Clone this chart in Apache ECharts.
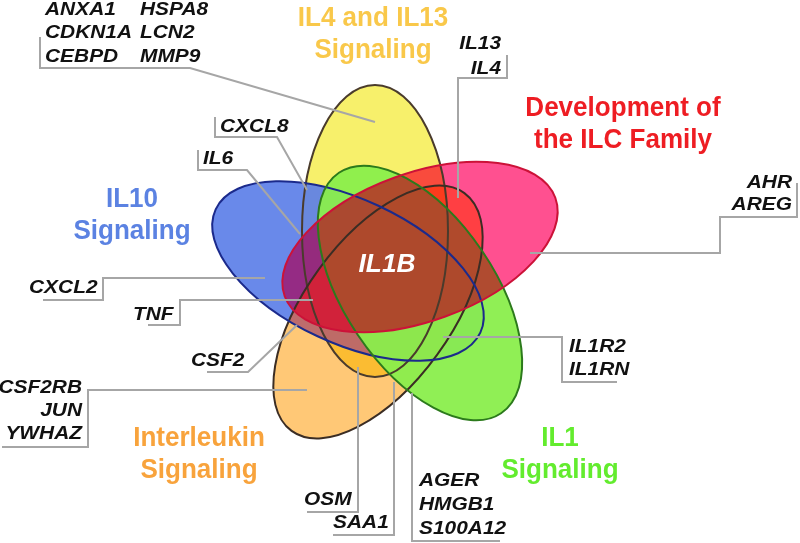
<!DOCTYPE html>
<html>
<head>
<meta charset="utf-8">
<script src="https://cdn.jsdelivr.net/npm/echarts@6/dist/echarts.min.js"></script>
<style>
  html, body { margin: 0; background: #fff; }
  #chart { width: 800px; height: 543px; }
</style>
</head>
<body>
<div id="chart"></div>
<script>
const setNames = [
  'IL4 and IL13\nSignaling',
  'Interleukin\nSignaling',
  'IL10\nSignaling',
  'IL1\nSignaling',
  'Development of\nthe ILC Family'
]
const coreGene = 'IL1B'
// genes shared by each labelled region
const geneGroups = [
  ['ANXA1', 'CDKN1A', 'CEBPD', 'HSPA8', 'LCN2', 'MMP9'],
  ['CXCL8'],
  ['IL6'],
  ['IL13', 'IL4'],
  ['AHR', 'AREG'],
  ['CXCL2'],
  ['TNF'],
  ['CSF2'],
  ['CSF2RB', 'JUN', 'YWHAZ'],
  ['OSM'],
  ['SAA1'],
  ['AGER', 'HMGB1', 'S100A12'],
  ['IL1R2', 'IL1RN']
]

// layout, in the 800 x 543 frame
const ellipseCenters = [[375, 231], [378, 312], [348, 271], [420, 293], [420, 247]]
const ellipseAxes = [[146, 73], [147, 73], [146, 72], [145, 75], [144, 74]]
const ellipseAngles = [90, 54, -25, -56, 20]
// fills are tuned for their blend mode so the single regions come out
// yellow / orange / blue / green / pink on white
const setFills = ['#f7f06b', '#c8643b', '#5c7fe8', '#8aee4c', '#a52848']
const setStrokes = ['#4a3b2c', '#3b2d24', '#1b2a8c', '#2c7a1c', '#cc1238']
const setOpacity = [1, 1, 0.92, 0.95, 1]
const setBlend = [null, 'hard-light', null, null, 'hard-light']
const drawOrder = [0, 2, 1, 3, 4]
const titleAnchors = [[373, 34], [199, 454], [132, 215], [560, 454], [623, 124]]
const titleColors = ['#f9c84a', '#f8a33c', '#5b82e2', '#63ec2e', '#ee1d23']

const geneAnchors = [[45, 33], [220, 127], [203, 159], [501, 56], [792, 194], [29, 288],
  [133, 315], [191, 361], [82, 411], [304, 500], [333, 523], [419, 505], [569, 358]]
const geneAlign = ['left', 'left', 'left', 'right', 'right', 'left',
  'left', 'left', 'right', 'left', 'left', 'left', 'left']
const geneLineHeight = [23.5, 23, 23, 25, 22, 23, 23, 23, 23, 23, 23, 24, 23]
const leaderPaths = [
  [[40, 37], [40, 68], [190, 68], [375, 122]],
  [[215, 117], [215, 137], [277, 137], [307, 190]],
  [[198, 150], [198, 170], [247, 170], [300, 234]],
  [[507, 55], [507, 78], [458, 78], [458, 198]],
  [[797, 183], [797, 217], [720, 217], [720, 253], [530, 253]],
  [[43, 300], [103, 300], [103, 278], [265, 278]],
  [[148, 325], [180, 325], [180, 300], [313, 300]],
  [[207, 372], [248, 372], [297, 325]],
  [[2, 447], [88, 447], [88, 390], [307, 390]],
  [[307, 512], [358, 512], [358, 367]],
  [[333, 535], [394, 535], [394, 382]],
  [[500, 541], [412, 541], [412, 393]],
  [[617, 382], [562, 382], [562, 337], [443, 337]]
]
const coreAnchor = [387, 265]

const geneFont = 'italic bold 19px "Liberation Sans", Arial, sans-serif'
const titleFont = 'bold 28px "Liberation Sans", Arial, sans-serif'

const ellipseData = setNames.map((n, i) => [
  ellipseCenters[i][0], ellipseCenters[i][1], ellipseAxes[i][0], ellipseAxes[i][1], ellipseAngles[i], i
])

function ellipseItem(params, api, outline) {
  const i = api.value(5)
  const c = api.coord([api.value(0), api.value(1)])
  const s = api.size([api.value(2), api.value(3)])
  return {
    type: 'ellipse',
    x: c[0],
    y: c[1],
    rotation: api.value(4) * Math.PI / 180,
    shape: { cx: 0, cy: 0, rx: s[0], ry: s[1] },
    style: outline
      ? { fill: 'none', stroke: setStrokes[i], lineWidth: 2 }
      : { fill: setFills[i], opacity: setOpacity[i] }
  }
}

// gene labels: the six-gene group is set in two columns of three
const geneTexts = []
geneGroups.forEach((g, i) => {
  if (g.length > 3) {
    geneTexts.push([geneAnchors[i][0], geneAnchors[i][1], g.slice(0, 3).join('\n'), i])
    geneTexts.push([geneAnchors[i][0] + 95, geneAnchors[i][1], g.slice(3).join('\n'), i])
  } else {
    geneTexts.push([geneAnchors[i][0], geneAnchors[i][1], g.join('\n'), i])
  }
})

// one fill series per set, so each can carry its own blend mode
const fillSeries = drawOrder.map((i, k) => ({
  type: 'custom',
  silent: true,
  z: 1 + k,
  blendMode: setBlend[i] || undefined,
  data: [ellipseData[i]],
  renderItem: (params, api) => ellipseItem(params, api, false)
}))

const chart = echarts.init(document.getElementById('chart'))
chart.setOption({
  backgroundColor: '#fff',
  animation: false,
  grid: { left: 0, right: 0, top: 0, bottom: 0 },
  xAxis: { type: 'value', min: 0, max: 800, show: false },
  yAxis: { type: 'value', min: 0, max: 543, inverse: true, show: false },
  series: fillSeries.concat([
    {
      type: 'custom',
      silent: true,
      z: 10,
      data: ellipseData,
      renderItem: (params, api) => ellipseItem(params, api, true)
    },
    {
      type: 'lines',
      coordinateSystem: 'cartesian2d',
      polyline: true,
      silent: true,
      z: 11,
      lineStyle: { color: '#a6a6a6', width: 2, opacity: 1 },
      data: leaderPaths.map(p => ({ coords: p }))
    },
    {
      type: 'custom',
      silent: true,
      z: 12,
      data: titleAnchors.map((a, i) => [a[0], a[1], i]),
      renderItem: (params, api) => {
        const i = params.dataIndex
        const c = api.coord([api.value(0), api.value(1)])
        return {
          type: 'text',
          x: c[0],
          y: c[1],
          scaleX: 0.93,
          style: {
            text: setNames[i],
            font: titleFont,
            fill: titleColors[i],
            textAlign: 'center',
            textVerticalAlign: 'middle',
            lineHeight: 32
          }
        }
      }
    },
    {
      type: 'custom',
      silent: true,
      z: 13,
      data: geneTexts.map(t => [t[0], t[1], t[3]]),
      renderItem: (params, api) => {
        const t = geneTexts[params.dataIndex]
        const g = t[3]
        const c = api.coord([api.value(0), api.value(1)])
        return {
          type: 'text',
          x: c[0],
          y: c[1],
          scaleX: 1.1,
          style: {
            text: t[2],
            font: geneFont,
            fill: '#111',
            textAlign: geneAlign[g],
            textVerticalAlign: 'middle',
            lineHeight: geneLineHeight[g]
          }
        }
      }
    },
    {
      type: 'custom',
      silent: true,
      z: 14,
      data: [[coreAnchor[0], coreAnchor[1]]],
      renderItem: (params, api) => {
        const c = api.coord([api.value(0), api.value(1)])
        return {
          type: 'text',
          x: c[0],
          y: c[1],
          scaleX: 1.05,
          style: {
            text: coreGene,
            font: 'italic bold 25px "Liberation Sans", Arial, sans-serif',
            fill: '#fff',
            textAlign: 'center',
            textVerticalAlign: 'middle'
          }
        }
      }
    }
  ])
})
</script>
</body>
</html>
